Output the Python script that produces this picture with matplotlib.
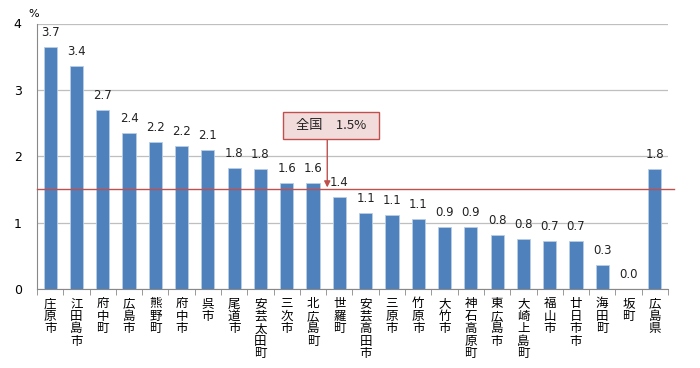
import matplotlib
matplotlib.use("Agg")
import matplotlib.pyplot as plt
from matplotlib.patches import Rectangle
import numpy as np

plt.rcParams['font.family'] = ['Noto Sans CJK JP', 'DejaVu Sans']

categories = ["庄原市", "江田島市", "府中町", "広島市", "熊野町", "府中市", "呉市", "尾道市",
              "安芸太田町", "三次市", "北広島町", "世羅町", "安芸高田市", "三原市", "竹原市",
              "大竹市", "神石高原町", "東広島市", "大崎上島町", "福山市", "廿日市市", "海田町",
              "坂町", "広島県"]
values = [3.65, 3.36, 2.69, 2.35, 2.21, 2.16, 2.10, 1.83, 1.81, 1.60, 1.60, 1.39,
          1.145, 1.11, 1.06, 0.94, 0.93, 0.81, 0.76, 0.73, 0.72, 0.36, 0.0, 1.81]
value_labels = ["3.7", "3.4", "2.7", "2.4", "2.2", "2.2", "2.1", "1.8", "1.8", "1.6", "1.6",
                "1.4", "1.1", "1.1", "1.1", "0.9", "0.9", "0.8", "0.8", "0.7", "0.7", "0.3",
                "0.0", "1.8"]
national = 1.5
national_label = "全国　1.5%"
yticks = [0, 1, 2, 3, 4]

fig = plt.figure(figsize=(7, 3.68), dpi=100)
ax = fig.add_axes([37/700, 1-289/368, (668-37)/700, (289-23.5)/368])

x = np.arange(len(categories))
ax.bar(x, values, width=0.5, color="#4F81BD", edgecolor="#B9CDE5", linewidth=0.6, zorder=3)

for xi, v, lab in zip(x, values, value_labels):
    ax.text(xi, v + 0.12, lab, ha="center", va="bottom", fontsize=8.5, color="#222222",
            family=["DejaVu Sans"])

ax.set_xlim(-0.5, len(categories) - 0.5)
ax.set_ylim(0, 4)
ax.set_yticks(yticks)
ax.set_yticklabels([str(t) for t in yticks], fontsize=9, family=["DejaVu Sans"])
ax.yaxis.grid(True, color="#BFBFBF", linewidth=0.9, zorder=0)
ax.set_axisbelow(True)
ax.tick_params(axis="y", length=0, pad=11)

ax.set_xticks(x)
ax.set_xticklabels(["\n".join(c) for c in categories], fontsize=9, va="top",
                   linespacing=0.95)
ax.tick_params(axis="x", length=0, pad=6)
ax.set_xticks(np.arange(-0.5, len(categories), 1.0), minor=True)
ax.tick_params(axis="x", which="minor", length=4, color="#888888", direction="out")

for s in ["top", "right"]:
    ax.spines[s].set_visible(False)
ax.spines["left"].set_color("#888888")
ax.spines["bottom"].set_color("#888888")

ax.axhline(national, color="#C0504D", linewidth=1.0, xmin=0, xmax=1.01, clip_on=False, zorder=4)

ax.annotate("", xy=(10.54, national + 0.03), xytext=(10.54, 2.26),
            arrowprops=dict(arrowstyle="-|>", color="#C0504D", lw=1.0, mutation_scale=9,
                            shrinkA=0, shrinkB=0),
            zorder=5)
ax.add_patch(Rectangle((8.85, 2.26), 3.66, 0.40, facecolor="#F2DCDB", edgecolor="#C0504D",
                       linewidth=1.0, zorder=6))
ax.text(10.68, 2.46, national_label, ha="center", va="center", fontsize=9.5, color="#222222",
        zorder=7)

fig.text(28/700, 1-14/368, "%", fontsize=8, ha="left", va="center", family=["DejaVu Sans"])

fig.savefig("out.png", dpi=100)
